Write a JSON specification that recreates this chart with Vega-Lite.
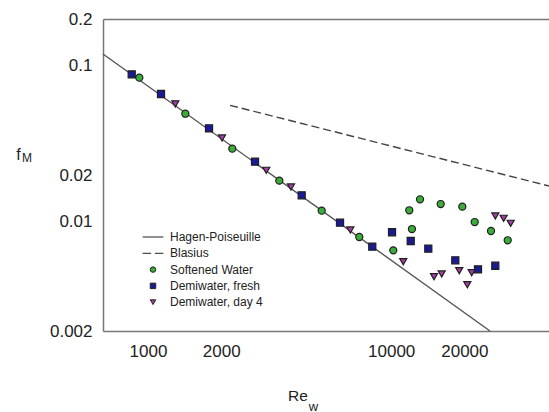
{
  "$schema": "https://vega.github.io/schema/vega-lite/v6.json",
  "width": 446,
  "height": 312,
  "autosize": {"type": "none"},
  "padding": {"left": 103, "top": 19, "right": 0, "bottom": 81},
  "background": "white",
  "config": {"view": {"stroke": null}, "font": "Liberation Sans"},
  "datasets": {
    "points": [
      {"re": 921, "f": 0.0841, "series": "Softened Water"},
      {"re": 1424, "f": 0.04942, "series": "Softened Water"},
      {"re": 2221, "f": 0.02949, "series": "Softened Water"},
      {"re": 3467, "f": 0.01839, "series": "Softened Water"},
      {"re": 5179, "f": 0.01181, "series": "Softened Water"},
      {"re": 7393, "f": 0.00801, "series": "Softened Water"},
      {"re": 10200, "f": 0.00658, "series": "Softened Water"},
      {"re": 11870, "f": 0.01188, "series": "Softened Water"},
      {"re": 12170, "f": 0.00901, "series": "Softened Water"},
      {"re": 13140, "f": 0.01397, "series": "Softened Water"},
      {"re": 15980, "f": 0.01303, "series": "Softened Water"},
      {"re": 19610, "f": 0.01253, "series": "Softened Water"},
      {"re": 22050, "f": 0.00999, "series": "Softened Water"},
      {"re": 25730, "f": 0.00875, "series": "Softened Water"},
      {"re": 30140, "f": 0.00763, "series": "Softened Water"},
      {"re": 857, "f": 0.0884, "series": "Demiwater, fresh"},
      {"re": 1131, "f": 0.0661, "series": "Demiwater, fresh"},
      {"re": 1782, "f": 0.03985, "series": "Demiwater, fresh"},
      {"re": 2754, "f": 0.02433, "series": "Demiwater, fresh"},
      {"re": 4285, "f": 0.01483, "series": "Demiwater, fresh"},
      {"re": 6160, "f": 0.00989, "series": "Demiwater, fresh"},
      {"re": 8360, "f": 0.00694, "series": "Demiwater, fresh"},
      {"re": 10080, "f": 0.00859, "series": "Demiwater, fresh"},
      {"re": 12030, "f": 0.00755, "series": "Demiwater, fresh"},
      {"re": 14210, "f": 0.00674, "series": "Demiwater, fresh"},
      {"re": 18350, "f": 0.00568, "series": "Demiwater, fresh"},
      {"re": 22750, "f": 0.00497, "series": "Demiwater, fresh"},
      {"re": 26800, "f": 0.00524, "series": "Demiwater, fresh"},
      {"re": 1295, "f": 0.0571, "series": "Demiwater, day 4"},
      {"re": 2015, "f": 0.03453, "series": "Demiwater, day 4"},
      {"re": 3065, "f": 0.02144, "series": "Demiwater, day 4"},
      {"re": 3873, "f": 0.01675, "series": "Demiwater, day 4"},
      {"re": 6790, "f": 0.00888, "series": "Demiwater, day 4"},
      {"re": 11210, "f": 0.00556, "series": "Demiwater, day 4"},
      {"re": 15000, "f": 0.00446, "series": "Demiwater, day 4"},
      {"re": 16130, "f": 0.00464, "series": "Demiwater, day 4"},
      {"re": 19050, "f": 0.00487, "series": "Demiwater, day 4"},
      {"re": 20560, "f": 0.00396, "series": "Demiwater, day 4"},
      {"re": 21430, "f": 0.00473, "series": "Demiwater, day 4"},
      {"re": 26800, "f": 0.01092, "series": "Demiwater, day 4"},
      {"re": 29010, "f": 0.01055, "series": "Demiwater, day 4"},
      {"re": 31000, "f": 0.0098, "series": "Demiwater, day 4"}
    ],
    "hp": [
      {"re": 653, "f": 0.1193},
      {"re": 25490, "f": 0.002}
    ],
    "blasius": [
      {"re": 2174, "f": 0.05595},
      {"re": 44560, "f": 0.017}
    ]
  },
  "layer": [
    {
      "data": {"name": "hp"},
      "mark": {"type": "line", "color": "#555555", "strokeWidth": 1.4},
      "encoding": {
        "x": {"field": "re", "type": "quantitative", "scale": {"type": "log", "domain": [653, 44560], "nice": false},
          "axis": {"orient": "top", "labels": false, "ticks": false, "grid": false, "domain": true, "domainColor": "#777777", "domainWidth": 1.5,
            "title": "w", "titleFontSize": 13, "titleFontWeight": "normal", "titleColor": "#222222", "titleX": 210, "titleY": 391, "titleAlign": "center", "titleBaseline": "alphabetic", "titleAngle": 0}},
        "y": {"field": "f", "type": "quantitative", "scale": {"type": "log", "domain": [0.002, 0.2], "nice": false},
          "axis": {"orient": "right", "labels": false, "ticks": false, "grid": false, "domain": false,
            "title": "M", "titleFontSize": 12, "titleFontWeight": "normal", "titleColor": "#222222", "titleX": -522.5, "titleY": 142, "titleAlign": "center", "titleBaseline": "alphabetic", "titleAngle": 0}}
      }
    },
    {
      "data": {"name": "blasius"},
      "mark": {"type": "line", "color": "#444444", "strokeWidth": 1.4, "strokeDash": [8, 4]},
      "encoding": {
        "x": {"field": "re", "type": "quantitative", "axis": null},
        "y": {"field": "f", "type": "quantitative", "axis": null}
      }
    },
    {
      "data": {"name": "points"},
      "mark": {"type": "point", "filled": true, "size": 50, "stroke": "#1e1e1e", "strokeWidth": 1.2, "opacity": 1},
      "encoding": {
        "x": {"field": "re", "type": "quantitative",
          "axis": {"orient": "bottom", "values": [1000, 2000, 10000, 20000], "format": "d", "ticks": false, "grid": false,
            "domainColor": "#777777", "domainWidth": 1.5, "labelFontSize": 17, "labelColor": "#222222", "labelPadding": 12, "labelFlush": false,
            "title": "Re", "titleFontSize": 15.5, "titleFontWeight": "normal", "titleColor": "#222222", "titleX": 194.5, "titleY": 69, "titleAlign": "center", "titleBaseline": "alphabetic"}},
        "y": {"field": "f", "type": "quantitative",
          "axis": {"orient": "left", "values": [0.002, 0.01, 0.02, 0.1, 0.2], "format": "~g", "ticks": false, "grid": false,
            "domainColor": "#777777", "domainWidth": 1.5, "labelFontSize": 17, "labelColor": "#222222", "labelPadding": 11, "labelFlush": false,
            "title": "f", "titleFontSize": 16, "titleFontWeight": "normal", "titleColor": "#222222", "titleX": -85, "titleY": 140, "titleAlign": "center", "titleBaseline": "alphabetic", "titleAngle": 0}},
        "color": {"field": "series", "type": "nominal",
          "scale": {"domain": ["Hagen-Poiseuille", "Blasius", "Softened Water", "Demiwater, fresh", "Demiwater, day 4"],
            "range": ["#333333", "#333333", "#3aac3a", "#1a1a94", "#a83ea8"]},
          "legend": {"title": null, "orient": "none", "legendX": 44, "legendY": 212, "padding": 0, "symbolSize": 30, "symbolStrokeColor": "#222222", "symbolStrokeWidth": 1,
            "labelFontSize": 12, "labelColor": "#222222", "labelOffset": 11, "rowPadding": 4.3}},
        "shape": {"field": "series", "type": "nominal",
          "scale": {"domain": ["Hagen-Poiseuille", "Blasius", "Softened Water", "Demiwater, fresh", "Demiwater, day 4"],
            "range": ["M-3.8,0L3.8,0", "M-3.8,0L-0.7,0M0.7,0L3.8,0", "circle", "square", "triangle-down"]},
          "legend": {"title": null, "orient": "none", "legendX": 44, "legendY": 212, "padding": 0, "symbolSize": 30, "symbolStrokeColor": "#222222", "symbolStrokeWidth": 1,
            "labelFontSize": 12, "labelColor": "#222222", "labelOffset": 11, "rowPadding": 4.3}}
      }
    }
  ],
  "resolve": {"axis": {"x": "independent", "y": "independent"}}
}
